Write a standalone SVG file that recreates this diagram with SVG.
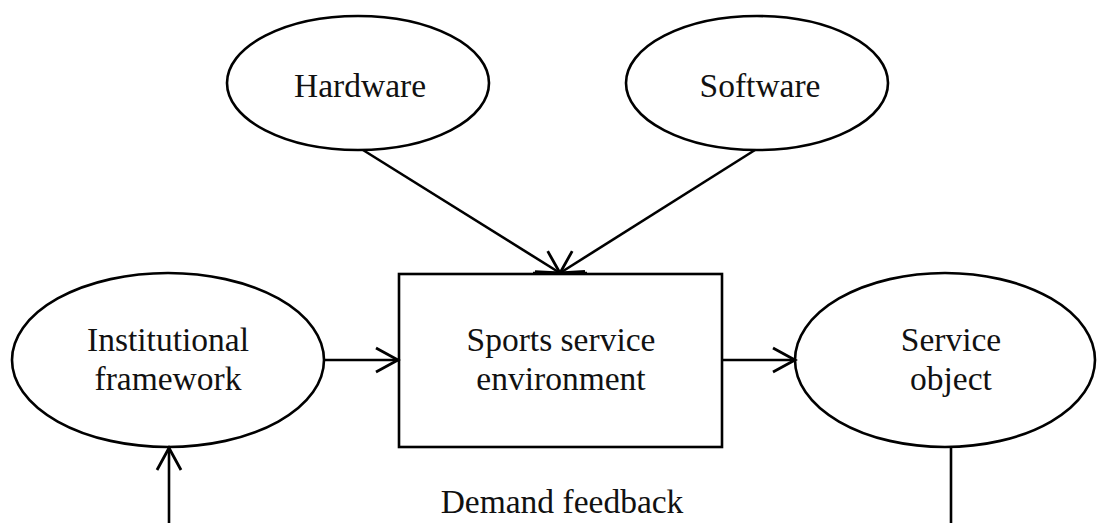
<svg xmlns="http://www.w3.org/2000/svg" width="1097" height="523" viewBox="0 0 1097 523">
<style>
.n{fill:#fff;stroke:#000;stroke-width:2.6}
.t{font-family:"Liberation Serif","Times New Roman",serif;font-size:33.5px;fill:#111;text-anchor:middle}
.c{stroke:#000;stroke-width:2.6;fill:none}
</style>
<defs>
<marker id="a" markerUnits="userSpaceOnUse" markerWidth="30" markerHeight="30" viewBox="-26 -15 30 30" refX="0" refY="0" orient="auto" overflow="visible">
<path d="M-22,-12 L0,0 L-22,12" fill="none" stroke="#000" stroke-width="2.8"/>
</marker>
</defs>
<rect width="1097" height="523" fill="#fff"/>
<g id="hardware">
<ellipse class="n" cx="358" cy="83" rx="131" ry="67"/>
<text class="t" x="360" y="97">Hardware</text>
</g>
<g id="software">
<ellipse class="n" cx="757" cy="83" rx="131" ry="67"/>
<text class="t" x="760" y="97">Software</text>
</g>
<g id="institutional">
<ellipse class="n" cx="168" cy="360" rx="156" ry="87"/>
<text class="t" x="168" y="351">Institutional</text>
<text class="t" x="168" y="390">framework</text>
</g>
<g id="environment">
<rect class="n" x="399" y="274" width="323" height="173"/>
<text class="t" x="561" y="351">Sports service</text>
<text class="t" x="561" y="390">environment</text>
</g>
<g id="service">
<ellipse class="n" cx="945" cy="360" rx="150" ry="87"/>
<text class="t" x="951" y="351">Service</text>
<text class="t" x="951" y="390">object</text>
</g>
<g id="connectors">
<path class="c" d="M363,150 L560,273" marker-end="url(#a)"/>
<path class="c" d="M755,150 L560,273" marker-end="url(#a)"/>
<path class="c" d="M533,273 L587,273" stroke-width="4.5"/>
<path class="c" d="M325,360 L398,360" marker-end="url(#a)"/>
<path class="c" d="M722,360 L795,360" marker-end="url(#a)"/>
<path class="c" d="M951,447 L951,523"/>
<path class="c" d="M169,523 L169,448" marker-end="url(#a)"/>
</g>
<text class="t" x="562" y="513">Demand feedback</text>
</svg>
